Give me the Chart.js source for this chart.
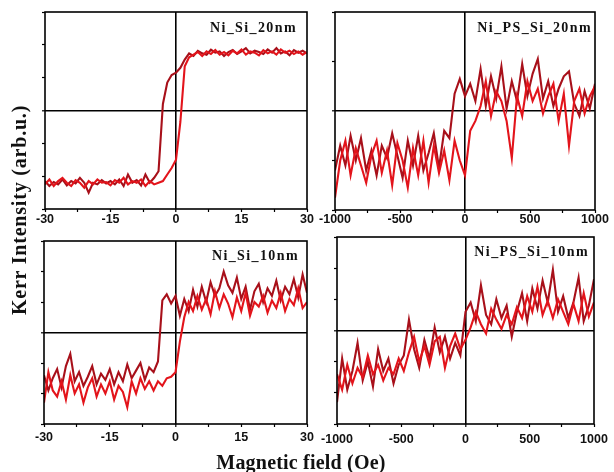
<!DOCTYPE html>
<html>
<head>
<meta charset="utf-8">
<script src="https://cdn.jsdelivr.net/npm/chart.js@4.4.0/dist/chart.umd.min.js"></script>
<style>
body { margin:0; background:#fff; }
#wrap { position:relative; width:614px; height:472px; overflow:hidden; background:#fff; }
canvas { position:absolute; }
.lbl { position:absolute; font-family:"Liberation Serif","DejaVu Serif",serif; font-weight:bold; color:#111; white-space:nowrap; }
.tag { font-size:14px; letter-spacing:1.4px; line-height:16px; text-align:right; }
.ttl { font-size:20px; line-height:22px; width:300px; text-align:center; }
</style>
</head>
<body>
<div id="wrap">
  <canvas id="c1"></canvas>
  <canvas id="c2"></canvas>
  <canvas id="c3"></canvas>
  <canvas id="c4"></canvas>
  <div class="lbl tag" style="right:317px;top:20px;">Ni_Si_20nm</div>
  <div class="lbl tag" style="right:22px;top:20px;">Ni_PS_Si_20nm</div>
  <div class="lbl tag" style="right:315px;top:248px;">Ni_Si_10nm</div>
  <div class="lbl tag" style="right:25px;top:244px;">Ni_PS_Si_10nm</div>
  <div class="lbl ttl" style="left:-131px;top:199px;transform:rotate(-90deg);letter-spacing:0.8px;">Kerr Intensity (arb.u.)</div>
  <div class="lbl ttl" style="left:151px;top:451px;letter-spacing:0.2px;">Magnetic field (Oe)</div>
</div>
<script>
// field sweeps (Oe)
var fieldSi = [-30,-29,-28,-27,-26,-25,-24,-23,-22,-21,-20,-19,-18,-17,-16,-15,-14,-13,-12,-11,-10,-9,-8,-7,-6,-5,-4,-3,-2,-1,
  0,1,2,3,4,5,6,7,8,9,10,11,12,13,14,15,16,17,18,19,20,21,22,23,24,25,26,27,28,29,30];
var fieldPS = [-1000,-960,-920,-880,-840,-800,-760,-720,-680,-640,-600,-560,-520,-480,-440,-400,-360,-320,-280,-240,-200,-160,-120,-80,-40,
  0,40,80,120,160,200,240,280,320,360,400,440,480,520,560,600,640,680,720,760,800,840,880,920,960,1000];

// Ni_Si_20nm
var si20Down = [-2.15,-2.3,-2.18,-2.25,-2.1,-2.28,-2.15,-2.22,-2.05,-2.2,-2.5,-2.2,-2.25,-2.12,-2.22,-2.15,-2.25,-2.1,-2.3,-1.95,
  -2.2,-2.12,-2.28,-1.95,-2.2,-2.05,-1.85,0.2,0.85,1.08,
  1.15,1.3,1.55,1.74,1.66,1.82,1.74,1.7,1.85,1.76,1.8,1.66,1.78,1.84,1.72,1.8,1.9,1.74,1.82,1.78,1.72,1.86,1.76,1.9,1.74,1.8,1.68,1.84,1.76,1.82,1.74];
var si20Up = [-2.25,-2.1,-2.3,-2.15,-2.05,-2.2,-2.3,-2.12,-2.2,-2.35,-2.15,-2.25,-2.1,-2.2,-2.18,-2.28,-2.12,-2.2,-2.05,-2.25,
  -2.15,-2.2,-2.1,-2.3,-2.15,-2.25,-2.2,-2.15,-1.95,-1.75,
  -1.5,-0.35,1.35,1.62,1.7,1.78,1.66,1.8,1.72,1.84,1.7,1.78,1.68,1.82,1.74,1.86,1.7,1.8,1.76,1.68,1.84,1.74,1.8,1.7,1.86,1.76,1.82,1.72,1.8,1.7,1.78];

// Ni_PS_Si_20nm
var ps20Down = [-1.2,-0.7,-1.1,-0.5,-1.0,-0.55,-1.2,-0.8,-1.3,-0.7,-0.95,-0.45,-0.9,-1.35,-0.6,-1.1,-0.5,-1.2,-0.85,-0.45,-1.15,-0.4,-0.55,0.35,0.65,
  0.3,0.55,0.2,0.85,0.1,0.7,0.25,0.9,0.05,0.6,0.2,0.95,0.3,0.75,1.05,0.25,0.6,0.1,0.45,0.7,0.8,0.15,-0.1,0.4,0.05,0.55];
var ps20Up = [-1.75,-1.0,-0.6,-1.3,-0.75,-1.1,-1.45,-0.9,-0.6,-1.25,-0.8,-1.5,-0.65,-1.0,-1.55,-0.75,-1.3,-0.6,-1.45,-0.7,-1.25,-0.8,-1.4,-0.6,-1.0,
  -1.3,-0.4,-0.2,0.1,0.6,-0.1,0.4,0.2,-0.2,-0.95,0.3,-0.1,0.6,0.2,0.45,-0.05,0.3,0.55,-0.2,0.35,-0.7,0.2,0.45,-0.05,0.3,0.5];

// Ni_Si_10nm
var si10Down = [-1.4,-1.9,-1.5,-1.2,-1.8,-1.1,-0.7,-1.6,-1.3,-1.75,-1.45,-1.1,-1.7,-1.35,-1.55,-1.2,-1.7,-1.3,-1.6,-1.05,
  -1.5,-1.25,-1.0,-1.55,-1.15,-1.3,-0.95,1.05,1.25,0.95,
  1.2,0.55,1.1,0.7,1.4,0.85,1.5,1.0,1.65,1.2,1.45,2.0,1.55,1.3,1.8,1.1,1.5,0.75,1.35,1.6,1.0,1.45,1.2,1.7,1.05,1.5,1.25,1.75,1.15,1.9,1.3];
var si10Up = [-2.3,-1.3,-1.9,-2.1,-1.6,-2.2,-1.4,-2.0,-1.7,-2.3,-1.8,-1.5,-2.1,-1.7,-2.0,-1.6,-2.2,-1.75,-1.95,-2.45,
  -1.6,-2.0,-1.5,-1.85,-1.6,-1.9,-1.6,-1.75,-1.5,-1.45,
  -1.3,-0.3,0.5,1.0,0.7,1.2,0.75,1.1,0.6,1.35,0.8,1.25,0.95,0.5,1.15,0.7,1.3,0.55,1.0,0.85,1.2,0.65,1.05,0.8,1.3,0.7,1.1,0.9,1.45,0.8,1.0];

// Ni_PS_Si_10nm
var ps10Down = [-2.3,-0.9,-1.9,-1.3,-0.4,-1.6,-1.0,-1.8,-0.6,-1.3,-0.9,-1.7,-1.1,-0.8,0.35,-0.6,-1.2,-0.3,-0.9,0.1,-0.7,-0.2,-0.9,-0.4,-0.8,
  0.6,0.9,0.3,1.45,0.5,0.2,1.0,0.4,0.8,-0.2,0.6,1.2,0.3,1.35,0.7,1.6,0.9,1.95,0.6,1.1,0.4,0.9,1.7,0.3,0.8,1.65];
var ps10Up = [-1.4,-1.9,-1.1,-1.7,-1.2,-1.5,-0.8,-1.4,-1.1,-1.6,-1.2,-1.4,-0.9,-1.3,-0.7,-0.2,-1.0,-0.5,-1.1,-0.35,-0.2,-1.2,-0.5,-0.1,-0.6,
  -0.3,0.1,0.6,0.2,-0.1,0.7,0.35,0.05,0.5,0.2,0.75,0.4,1.1,0.6,1.4,0.5,0.95,0.4,1.0,0.6,0.2,0.85,0.3,1.2,0.45,0.9];

var panels = [
  {id:'c1', box:[45,12,307,209], field:fieldSi, down:si20Down, up:si20Up, xMax:30, xStep:7.5, xLab:15, yMax:3, pad:0},
  {id:'c2', box:[335,12,595,210], field:fieldPS, down:ps20Down, up:ps20Up, xMax:1000, xStep:250, xLab:500, yMax:2, pad:-1},
  {id:'c3', box:[44,241,307,424], field:fieldSi, down:si10Down, up:si10Up, xMax:30, xStep:7.5, xLab:15, yMax:3, pad:3},
  {id:'c4', box:[337,237,594,424], field:fieldPS, down:ps10Down, up:ps10Up, xMax:1000, xStep:250, xLab:500, yMax:3, pad:5}
];

var framePlugin = {
  id: 'frame',
  afterDatasetsDraw: function(chart) {
    var a = chart.chartArea, c = chart.ctx;
    c.save();
    c.strokeStyle = '#000';
    c.lineWidth = 1.6;
    c.strokeRect(a.left, a.top, a.right - a.left, a.bottom - a.top);
    c.restore();
  }
};

function zeroColor(ctx) { return ctx.tick && ctx.tick.value === 0 ? '#000' : 'rgba(0,0,0,0)'; }
function zeroWidth(ctx) { return ctx.tick && ctx.tick.value === 0 ? 1.6 : 1; }

function makePanel(p) {
  var L = p.box[0], T = p.box[1], R = p.box[2], B = p.box[3];
  var padL = 30, padR = 30, padT = 6, axisH = 28;
  var cv = document.getElementById(p.id);
  cv.width = R - L + padL + padR;
  cv.height = B - T + padT + axisH;
  cv.style.left = (L - padL) + 'px';
  cv.style.top = (T - padT) + 'px';

  new Chart(cv, {
    type: 'line',
    data: {
      datasets: [
        { data: p.field.map(function(f, i) { return {x: f, y: p.up[i]}; }), borderColor: '#e3141b' },
        { data: p.field.map(function(f, i) { return {x: f, y: p.down[i]}; }), borderColor: '#a8101a' }
      ]
    },
    options: {
      responsive: false,
      animation: false,
      devicePixelRatio: 1,
      layout: { padding: { left: padL, right: padR, top: padT, bottom: 0 } },
      plugins: { legend: { display: false }, tooltip: { enabled: false } },
      elements: { point: { radius: 0 }, line: { borderWidth: 2.1, tension: 0 } },
      scales: {
        x: {
          type: 'linear', min: -p.xMax, max: p.xMax,
          afterFit: function(s) { s.height = axisH; },
          border: { display: false },
          grid: { color: zeroColor, lineWidth: zeroWidth, tickColor: '#000', tickWidth: 1.2, tickLength: 3 },
          ticks: {
            stepSize: p.xStep, autoSkip: false, maxRotation: 0, padding: p.pad, color: '#111',
            font: { family: '"Liberation Sans", Arial, sans-serif', size: 12.5, weight: 'bold' },
            callback: function(v) { return v % p.xLab === 0 ? String(v) : ''; }
          }
        },
        y: {
          type: 'linear', min: -p.yMax, max: p.yMax,
          afterFit: function(s) { s.width = 0; },
          border: { display: false },
          grid: { color: zeroColor, lineWidth: zeroWidth, tickColor: '#000', tickWidth: 1.2, tickLength: 3 },
          ticks: { stepSize: 1, display: false }
        }
      }
    },
    plugins: [framePlugin]
  });
}

panels.forEach(makePanel);
</script>
</body>
</html>
